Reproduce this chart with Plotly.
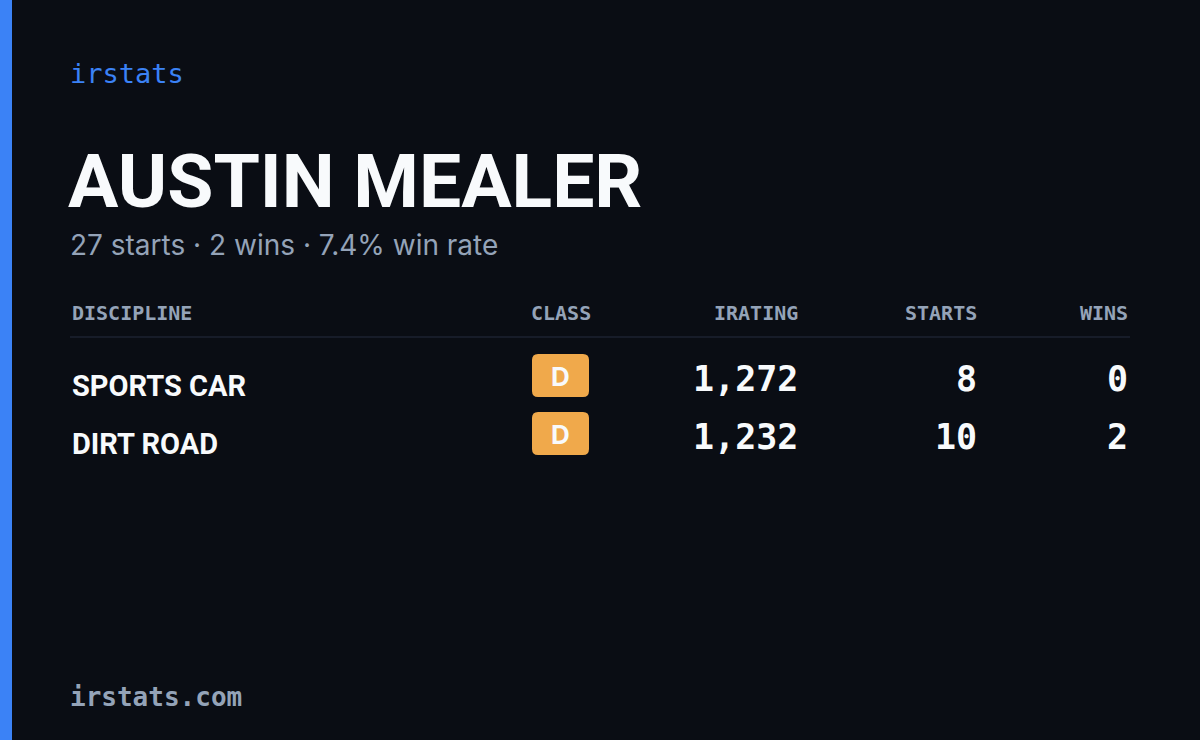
import plotly.graph_objects as go

# card data
brand = "irstats"
driver = "AUSTIN MEALER"
summary = "27 starts · 2 wins · 7.4% win rate"
headers = ["DISCIPLINE", "CLASS", "IRATING", "STARTS", "WINS"]
disciplines = ["SPORTS CAR", "DIRT ROAD"]
classes = ["D", "D"]
iratings = [1272, 1232]
starts = [8, 10]
wins = [0, 2]
footer = "irstats.com"

BG = "#0a0d14"
BLUE = "#3b82f6"
GRAY = "#94a3b8"
WHITE = "#f8fafc"
ORANGE = "#f0a94b"
MONO = "DejaVu Sans Mono"
COND = "Roboto, sans-serif"


def rounded_rect(x0, y0, x1, y1, r):
    return (f"M{x0+r},{y0} L{x1-r},{y0} Q{x1},{y0} {x1},{y0+r} "
            f"L{x1},{y1-r} Q{x1},{y1} {x1-r},{y1} L{x0+r},{y1} "
            f"Q{x0},{y1} {x0},{y1-r} L{x0},{y0+r} Q{x0},{y0} {x0+r},{y0} Z")


fig = go.Figure()
shapes = [
    dict(type="rect", x0=0, x1=12, y0=0, y1=740, fillcolor=BLUE, line_width=0),
    dict(type="line", x0=70, x1=1130, y0=337, y1=337, line=dict(color="#1c2230", width=1.5)),
]
ann = []


def text(x, y, s, size, color, family, anchor="left", bold=False):
    ann.append(dict(x=x, y=y, text=f"<b>{s}</b>" if bold else s, xanchor=anchor, yanchor="middle",
                    showarrow=False, font=dict(size=size, color=color, family=family)))


text(68, 73, brand, 27, BLUE, MONO)
text(66, 181, driver, 75, WHITE, COND, bold=True)
text(68, 245, summary, 28, GRAY, "Inter")

col_x = [70, 593, 800, 979, 1130]
anchors = ["left", "right", "right", "right", "right"]
for h, x, a in zip(headers, col_x, anchors):
    text(x, 313, h, 20, GRAY, MONO, a, bold=True)

row_y = [382, 440]
for i, y in enumerate(row_y):
    text(70, y + 4, disciplines[i], 29, WHITE, COND, bold=True)
    shapes.append(dict(type="path", path=rounded_rect(532, y - 28, 589, y + 15, 6),
                       fillcolor=ORANGE, line_width=0))
    text(560.5, y - 6, classes[i], 26, WHITE, "Inter", "center", bold=True)
    text(800, y - 3, f"{iratings[i]:,}", 35, WHITE, MONO, "right", bold=True)
    text(979, y - 3, str(starts[i]), 35, WHITE, MONO, "right", bold=True)
    text(1130, y - 3, str(wins[i]), 35, WHITE, MONO, "right", bold=True)

text(68, 697, footer, 26, GRAY, MONO, bold=True)

fig.update_layout(
    width=1200, height=740, margin=dict(l=0, r=0, t=0, b=0),
    paper_bgcolor=BG, plot_bgcolor=BG, showlegend=False,
    xaxis=dict(range=[0, 1200], visible=False, fixedrange=True),
    yaxis=dict(range=[740, 0], visible=False, fixedrange=True),
    shapes=shapes, annotations=ann,
)
fig.write_html("out.html", config={"displayModeBar": False},
               post_script="document.body.style.margin='0';document.body.style.background='#0a0d14';")
